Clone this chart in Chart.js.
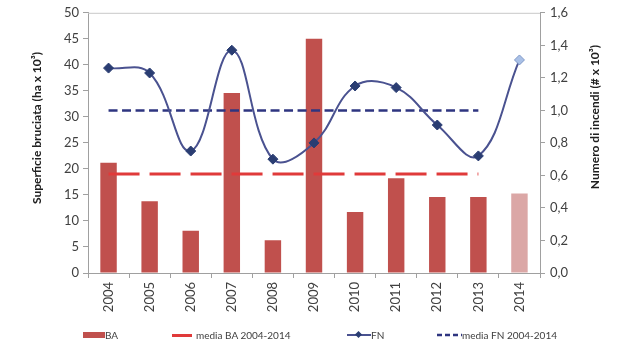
<!DOCTYPE html>
<html><head><meta charset="utf-8">
<script src="https://cdn.jsdelivr.net/npm/chart.js@4"></script>
<style>
html,body{margin:0;padding:0;background:#fff;}
#wrap{position:relative;width:638px;height:353px;}
#legend{position:absolute;left:0;top:326px;width:638px;height:18px;font-family:Lato,"Liberation Sans",sans-serif;font-size:10px;color:#404040;}
.li{position:absolute;top:0;height:18px;line-height:18px;white-space:nowrap;}
</style></head>
<body><div id="wrap"><canvas id="c" width="638" height="353"></canvas>
<div id="legend">
 <div class="li" style="left:83px"><span style="display:inline-block;width:22px;height:6px;background:#c0504d;vertical-align:middle;margin-top:-2px"></span>BA</div>
 <div class="li" style="left:172px"><span style="display:inline-block;width:20px;height:3px;background:#e03a3a;vertical-align:middle;margin-right:4px;margin-top:-2px"></span>media BA 2004-2014</div>
 <div class="li" style="left:347px"><svg width="24" height="10" style="vertical-align:middle;margin-top:-2px"><line x1="0" y1="5" x2="24" y2="5" stroke="#4a5290" stroke-width="2"/><rect x="9" y="2" width="5" height="5" fill="#2a3d72" transform="rotate(45 11.5 4.5)"/></svg>FN</div>
 <div class="li" style="left:437px"><svg width="25" height="10" style="vertical-align:middle;margin-top:-2px"><line x1="0" y1="5" x2="25" y2="5" stroke="#2e3580" stroke-width="2.5" stroke-dasharray="5,3"/></svg>media FN 2004-2014</div>
</div></div>
<script>
const years = ['2004','2005','2006','2007','2008','2009','2010','2011','2012','2013','2014'];
const baValues = [21.2, 13.8, 8.1, 34.6, 6.3, 45.0, 11.7, 18.2, 14.6, 14.6, 15.3];
const fnValues = [1.26, 1.23, 0.75, 1.37, 0.70, 0.80, 1.15, 1.14, 0.91, 0.72, 1.31];
const mediaBA = 19.0;
const mediaFN = 1.0;
const leftTicks = [0,5,10,15,20,25,30,35,40,45,50];
const rightTicks = [0,0.2,0.4,0.6,0.8,1.0,1.2,1.4,1.6];
const leftTitle = 'Superficie bruciata (ha x 10³)';
const rightTitle = 'Numero di incendi (# x 10³)';

const mediaBAData = years.map((y,i)=> i < years.length-1 ? mediaBA : null);
const mediaFNData = years.map((y,i)=> i < years.length-1 ? mediaFN : null);
const barColors = years.map((y,i)=> i === years.length-1 ? '#dba7a6' : '#c0504d');
const ptFill = years.map((y,i)=> i === years.length-1 ? '#a9c0e6' : '#2a3d72');
const ptBorder = years.map((y,i)=> i === years.length-1 ? '#7f98c8' : '#2a3d72');

const FONT = 'Lato, "Liberation Sans", sans-serif';
const frame = {
  id:'frame',
  afterDraw(chart){
    const {ctx, chartArea:a} = chart;
    ctx.save();
    ctx.strokeStyle = '#c8c8c8'; ctx.lineWidth = 1;
    ctx.beginPath(); ctx.moveTo(a.left, a.top+0.5); ctx.lineTo(a.right, a.top+0.5); ctx.stroke();
    ctx.fillStyle = '#202020';
    ctx.font = 'bold 12px ' + FONT;
    ctx.textAlign = 'center'; ctx.textBaseline = 'middle';
    ctx.save(); ctx.translate(37, 128); ctx.rotate(-Math.PI/2); ctx.fillText(leftTitle, 0, 0); ctx.restore();
    ctx.save(); ctx.translate(595, 117); ctx.rotate(-Math.PI/2); ctx.fillText(rightTitle, 0, 0); ctx.restore();
    ctx.restore();
  }
};

new Chart(document.getElementById('c'), {
  type:'bar',
  data:{
    labels: years,
    datasets:[
      {type:'line', label:'FN', data: fnValues, yAxisID:'y2', borderColor:'#4a5290', borderWidth:2, tension:0.4,
       pointStyle:'rectRot', pointRadius:5, pointBackgroundColor: ptFill, pointBorderColor: ptBorder, pointBorderWidth:1, order:1},
      {type:'line', label:'media FN 2004-2014', data: mediaFNData, yAxisID:'y2', borderColor:'#2e3580', borderWidth:2.5, borderDash:[9,4.5], pointRadius:0, order:2},
      {type:'line', label:'media BA 2004-2014', data: mediaBAData, yAxisID:'y', borderColor:'#e03a3a', borderWidth:3, borderDash:[31,10], pointRadius:0, order:3},
      {type:'bar', label:'BA', data: baValues, yAxisID:'y', backgroundColor: barColors, barPercentage:0.5, categoryPercentage:0.8, order:4}
    ]
  },
  options:{
    responsive:false, animation:false,
    layout:{padding:{top:10, left:0, right:0, bottom:0}},
    plugins:{legend:{display:false}, tooltip:{enabled:false}},
    scales:{
      x:{
        offset:true,
        grid:{drawOnChartArea:false, offset:true, tickLength:5, color:'#a0a0a0'},
        border:{color:'#a0a0a0'},
        ticks:{maxRotation:90, minRotation:90, color:'#404040', font:{family:FONT, size:13}, padding:4},
        afterFit(s){ s.height = 80; }
      },
      y:{
        position:'left', min:0, max:50,
        afterBuildTicks(s){ s.ticks = leftTicks.map(v=>({value:v})); },
        grid:{drawOnChartArea:false, tickLength:5, color:'#a0a0a0'},
        border:{color:'#a0a0a0'},
        ticks:{color:'#404040', font:{family:FONT, size:13}, padding:4},
        afterFit(s){ s.width = 88; }
      },
      y2:{
        position:'right', min:0, max:1.6,
        afterBuildTicks(s){ s.ticks = rightTicks.map(v=>({value:v})); },
        grid:{drawOnChartArea:false, tickLength:5, color:'#a0a0a0'},
        border:{color:'#a0a0a0'},
        ticks:{color:'#404040', font:{family:FONT, size:13}, padding:5, callback:v=>Number(v).toFixed(1).replace('.',',')},
        afterFit(s){ s.width = 98; }
      }
    }
  },
  plugins:[frame]
});
</script></body></html>
